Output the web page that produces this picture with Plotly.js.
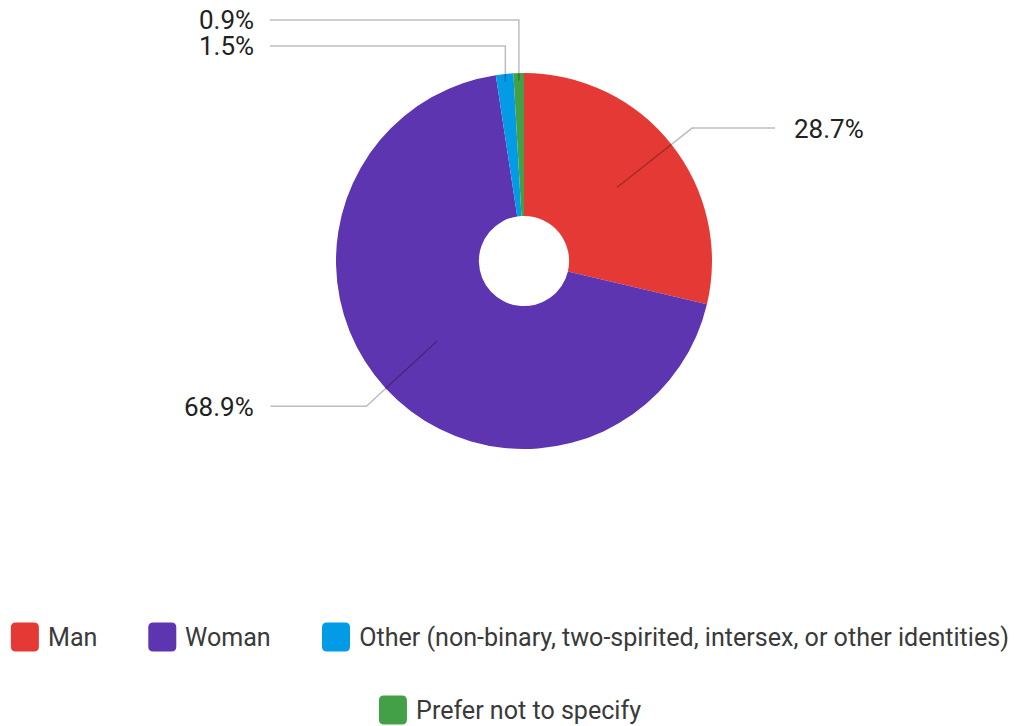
<!DOCTYPE html>
<html><head><meta charset="utf-8">
<script src="https://cdn.plot.ly/plotly-3.0.1.min.js"></script>
<style>html,body{margin:0;padding:0;background:#fff}#chart{width:1014px;height:726px}</style>
</head><body><div id="chart"></div>
<script>
// ---- data ----
const categories = ["Man", "Woman", "Other (non-binary, two-spirited, intersex, or other identities)", "Prefer not to specify"];
const values = [28.7, 68.9, 1.5, 0.9];
const valueLabels = ["28.7%", "68.9%", "1.5%", "0.9%"];
const colors = ["#e53935", "#5e35b1", "#039be5", "#43a047"];
const legendRows = [[0, 1, 2], [3]];

// ---- layout constants ----
const W = 1014, H = 726;
const CX = 524, CY = 261, R = 188;
const FONT = 'Roboto, sans-serif';
const LABEL_FS = 26, LABEL_SX = 1.0;   // pie value labels
const LEG_FS = 26, LEG_SX = 0.965;     // legend texts
const px = x => x / W, py = y => 1 - y / H;
const NS = 'http://www.w3.org/2000/svg';

function measure(text, size) {
  const svg = document.createElementNS(NS, 'svg');
  document.body.appendChild(svg);
  const t = document.createElementNS(NS, 'text');
  t.setAttribute('style', 'font-family:' + FONT + ';font-size:' + size + 'px');
  t.textContent = text;
  svg.appendChild(t);
  const w = t.getComputedTextLength();
  svg.remove();
  return w;
}

const trace = {
  type: 'pie', labels: categories, values: values, sort: false,
  direction: 'clockwise', rotation: 0, hole: 0.24,
  marker: {colors: colors, line: {width: 0}},
  textinfo: 'none', hoverinfo: 'label+percent', showlegend: false,
  domain: {x: [px(CX - R), px(CX + R)], y: [py(CY + R), py(CY - R)]}
};

// slice mid angles from data
const total = values.reduce((a, b) => a + b, 0);
let cum = 0;
const mids = values.map(v => { const m = (cum + v / 2) / total * 2 * Math.PI; cum += v; return m; });
const pt = (a, r) => [CX + r * Math.sin(a), CY - r * Math.cos(a)];

const shapes = [], annotations = [], annScale = [];
const lineStyle = {color: 'rgba(0,0,0,0.26)', width: 1.5};
function pathOf(points) {
  return points.map((p, i) => (i ? 'L' : 'M') + px(p[0]).toFixed(5) + ',' + py(p[1]).toFixed(5)).join(' ');
}
function label(i, x, y, anchor) {
  annotations.push({text: valueLabels[i], x: px(x), y: py(y), xref: 'paper', yref: 'paper',
    xanchor: anchor, yanchor: 'middle', showarrow: false, font: {family: FONT, size: LABEL_FS, color: '#222'}});
  annScale.push(LABEL_SX);
}
// large slices: diagonal then horizontal
[0, 1].forEach(i => {
  const a = mids[i];
  const inner = pt(a, 0.63 * R), elbow = pt(a, 1.14 * R);
  const right = Math.sin(a) > 0;
  const end = [right ? elbow[0] + 83 : elbow[0] - 96, elbow[1]];
  shapes.push({type: 'path', xref: 'paper', yref: 'paper', path: pathOf([inner, elbow, end]), line: lineStyle});
  label(i, right ? end[0] + 17 : end[0] - 14, elbow[1] + 1, right ? 'left' : 'right');
});
// small slices near the top: vertical then horizontal, stacked labels
const smallLabelY = {2: 46, 3: 20};
[2, 3].forEach(i => {
  const a = mids[i];
  const inner = pt(a, 0.96 * R);
  const y = smallLabelY[i];
  shapes.push({type: 'path', xref: 'paper', yref: 'paper', path: pathOf([inner, [inner[0], y], [270, y]]), line: lineStyle});
  label(i, 256, y, 'right');
});

// custom legend
const SW = 28, SGAP = 7, IGAP = 53, LCX = 509;
const rowY = [636.5, 709.5];
function rrect(x, y, w, h, r) {
  const P = (a, b) => px(a).toFixed(5) + ',' + py(b).toFixed(5);
  return 'M' + P(x + r, y) + ' L' + P(x + w - r, y) + ' Q' + P(x + w, y) + ' ' + P(x + w, y + r) +
    ' L' + P(x + w, y + h - r) + ' Q' + P(x + w, y + h) + ' ' + P(x + w - r, y + h) +
    ' L' + P(x + r, y + h) + ' Q' + P(x, y + h) + ' ' + P(x, y + h - r) +
    ' L' + P(x, y + r) + ' Q' + P(x, y) + ' ' + P(x + r, y) + ' Z';
}
legendRows.forEach((row, ri) => {
  const widths = row.map(i => SW + SGAP + measure(categories[i], LEG_FS) * LEG_SX);
  const totalW = widths.reduce((a, b) => a + b, 0) + IGAP * (row.length - 1);
  let x = LCX - totalW / 2;
  const yc = rowY[ri];
  row.forEach((i, k) => {
    shapes.push({type: 'path', xref: 'paper', yref: 'paper', path: rrect(x, yc - SW / 2, SW, SW + 1, 5),
      fillcolor: colors[i], line: {width: 0}});
    annotations.push({text: categories[i], x: px(x + SW + SGAP), y: py(yc), xref: 'paper', yref: 'paper',
      xanchor: 'left', yanchor: 'middle', showarrow: false, font: {family: FONT, size: LEG_FS, color: '#3a3a3a'}});
    annScale.push(LEG_SX);
    x += widths[k] + IGAP;
  });
});

const layout = {
  width: W, height: H, margin: {l: 0, r: 0, t: 0, b: 0},
  paper_bgcolor: '#fff', plot_bgcolor: '#fff', showlegend: false,
  shapes: shapes, annotations: annotations
};
Plotly.newPlot('chart', [trace], layout, {displayModeBar: false, staticPlot: true}).then(gd => {
  // narrow the text horizontally around its anchor edge (the reference font is slightly condensed)
  gd.querySelectorAll('g.annotation').forEach(g => {
    const idx = +g.getAttribute('data-index');
    const t = g.querySelector('text');
    if (!t) return;
    const s = annScale[idx];
    if (s === 1) return;
    const bb = t.getBBox();
    const ax = annotations[idx].xanchor === 'right' ? bb.x + bb.width : bb.x;
    t.setAttribute('transform', 'translate(' + (ax * (1 - s)) + ',0) scale(' + s + ',1)');
  });
});
</script>
</body></html>
